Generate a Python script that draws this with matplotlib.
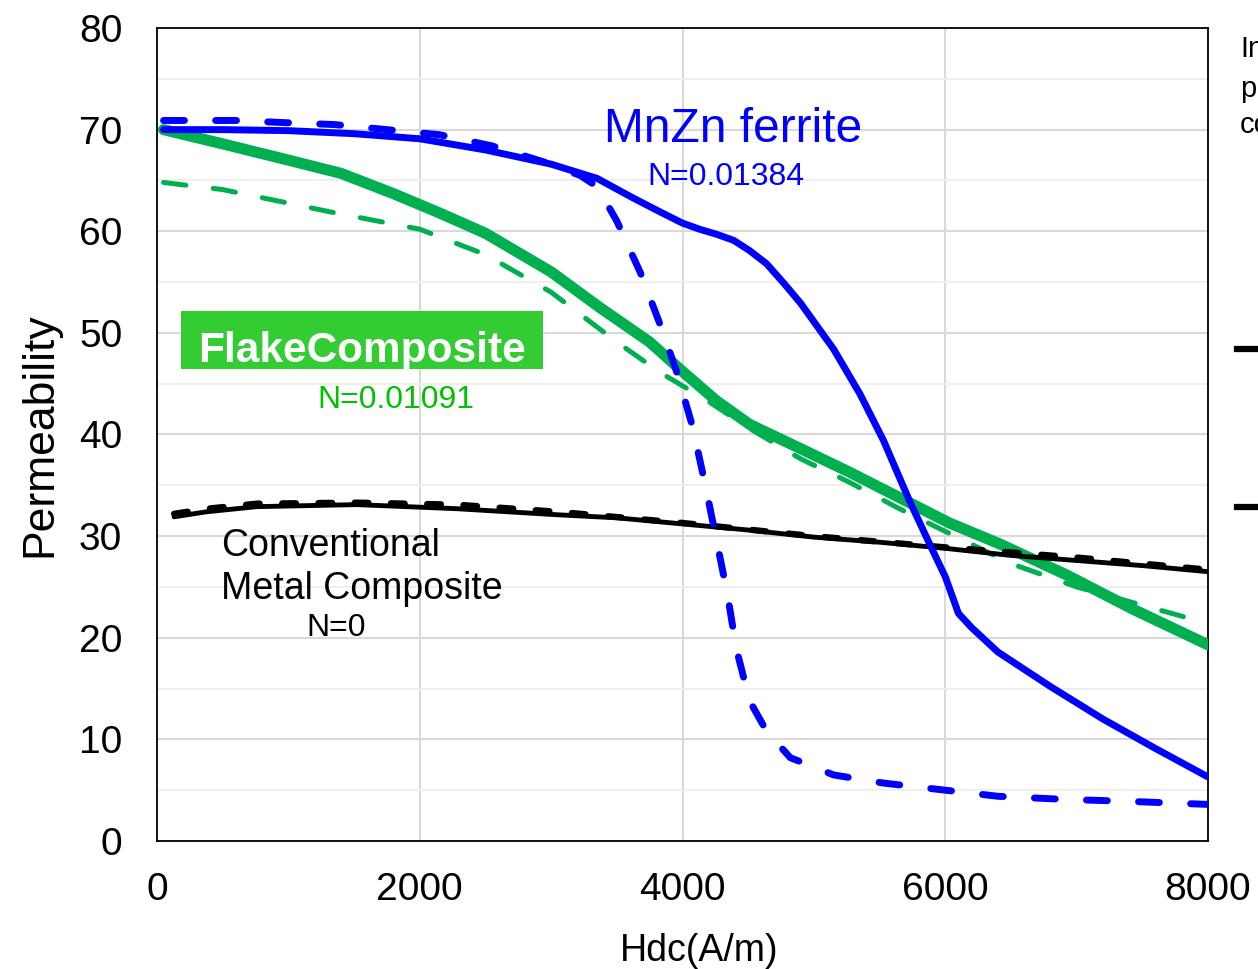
import matplotlib
matplotlib.use("Agg")
import matplotlib.pyplot as plt
from matplotlib.patches import Rectangle
from matplotlib.lines import Line2D
from matplotlib.ticker import MultipleLocator

plt.rcParams['font.family'] = ['Liberation Sans', 'DejaVu Sans']

# --- DATA ---
mnzn_x = [50, 500, 1000, 1500, 2000, 2500, 3000, 3350, 3620, 3830, 4000, 4130, 4260, 4390,
          4510, 4640, 4770, 4900, 5150, 5350, 5530, 5730, 5900, 6000, 6050, 6100, 6200,
          6400, 6800, 7200, 7600, 8000]
mnzn_y = [70.0, 70.0, 69.9, 69.6, 69.1, 68.0, 66.6, 65.2, 63.3, 61.9, 60.8, 60.2, 59.7, 59.1,
          58.1, 56.8, 54.9, 52.9, 48.4, 44.0, 39.4, 33.4, 28.7, 26.0, 24.2, 22.4, 21.0,
          18.6, 15.2, 12.0, 9.1, 6.3]

mnzn_d_x = [50, 600, 950, 1350, 1750, 2150, 2550, 2950, 3220, 3350, 3500, 3680, 3830, 3960,
            4080, 4180, 4260, 4340, 4410, 4510, 4640, 4820, 5150, 5530, 6000, 6400, 6900, 7400, 8000]
mnzn_d_y = [70.9, 70.9, 70.7, 70.5, 70.0, 69.5, 68.4, 66.8, 65.5, 64.4, 61.0, 55.9, 50.8, 46.0,
            40.6, 34.6, 29.5, 24.4, 18.9, 13.8, 10.8, 8.2, 6.5, 5.7, 5.0, 4.4, 4.1, 3.9, 3.6]

flake_x = [50, 500, 1000, 1400, 1800, 2150, 2500, 3000, 3370, 3750, 4000, 4260, 4510,
           4900, 5270, 5650, 6030, 6420, 6920, 7430, 8000]
flake_y = [70.0, 68.6, 67.0, 65.7, 63.7, 61.8, 59.8, 56.0, 52.5, 49.1, 46.2, 43.3, 41.0,
           38.6, 36.3, 33.8, 31.3, 29.2, 26.2, 22.8, 19.3]

flake_d_x = [50, 500, 950, 1320, 2000, 2500, 3000, 3500, 3830, 4180, 4510, 4900, 5270,
             5650, 6010, 6500, 7000, 7500, 8000]
flake_d_y = [64.8, 64.1, 62.9, 61.9, 60.2, 57.7, 54.0, 49.1, 46.1, 43.4, 40.6, 37.6, 35.3,
             32.7, 30.4, 27.3, 25.0, 23.2, 21.4]

conv_x = [130, 380, 760, 1520, 2280, 3050, 3500, 4000, 4500, 5000, 5500, 6000, 6500, 7000, 7500, 8000]
conv_y = [31.9, 32.4, 32.9, 33.1, 32.7, 32.1, 31.8, 31.2, 30.6, 29.9, 29.4, 28.8, 28.1, 27.6, 27.1, 26.5]

conv_d_x = [130, 380, 760, 1520, 2280, 3050, 4000, 5000, 6000, 7000, 8000]
conv_d_y = [32.2, 32.7, 33.2, 33.3, 33.1, 32.4, 31.3, 30.0, 28.9, 27.9, 26.7]

x_ticks = [0, 2000, 4000, 6000, 8000]
y_ticks = [0, 10, 20, 30, 40, 50, 60, 70, 80]

BLUE = '#0000FF'
GREEN = '#00B050'

fig = plt.figure(figsize=(12.58, 9.69), dpi=100)
ax = fig.add_axes([0.1248, 0.1321, 0.8355, 0.8390])

ax.set_xlim(0, 8000)
ax.set_ylim(0, 80)
ax.set_xticks(x_ticks)
ax.set_yticks(y_ticks)
ax.yaxis.set_minor_locator(MultipleLocator(5))
ax.grid(True, which='major', color='#D9D9D9', lw=1.5, zorder=0)
ax.grid(True, which='minor', axis='y', color='#EFEFEF', lw=1.5, zorder=0)
ax.tick_params(which='both', length=0, labelsize=28)
ax.tick_params(axis='y', pad=25)
ax.tick_params(axis='x', pad=22)
for s in ax.spines.values():
    s.set_color('black')
    s.set_linewidth(1.3)

ax.plot(flake_x, flake_y, color=GREEN, lw=8, solid_capstyle='round', solid_joinstyle='round', zorder=3)
ax.plot(flake_d_x, flake_d_y, color=GREEN, lw=3.6, dashes=(4.5, 5.5),
        dash_capstyle='round', zorder=3)
ax.plot(conv_x, conv_y, color='black', lw=3.5, solid_capstyle='round', zorder=4)
ax.plot(conv_d_x, conv_d_y, color='black', lw=4.5, dashes=(2.2, 3.6),
        dash_capstyle='round', zorder=4)
ax.plot(mnzn_x, mnzn_y, color=BLUE, lw=5, solid_capstyle='round', solid_joinstyle='round', zorder=5)
ax.plot(mnzn_d_x, mnzn_d_y, color=BLUE, lw=5, dashes=(3.0, 4.5),
        dash_capstyle='round', zorder=5)

ax.set_xlabel('Hdc(A/m)', fontsize=27, labelpad=18, x=0.516)
ax.set_ylabel('Permeability', fontsize=32, labelpad=13)

# annotations
ax.text(4384, 68.8, 'MnZn ferrite', color=BLUE, fontsize=34.5, ha='center', va='baseline', zorder=6)
ax.text(4331, 64.6, 'N=0.01384', color=BLUE, fontsize=23, ha='center', va='baseline', zorder=6)

ax.add_patch(Rectangle((183, 46.45), 2755, 5.7, facecolor='#33CC33', edgecolor='none', zorder=6))
ax.text(1560, 47.1, 'FlakeComposite', color='white', fontsize=30.5, fontweight='bold',
        ha='center', va='baseline', zorder=7)
ax.text(1816, 42.6, 'N=0.01091', color='#00C000', fontsize=23, ha='center', va='baseline', zorder=6)

ax.text(487, 28.0, 'Conventional', color='black', fontsize=27, ha='left', va='baseline', zorder=6)
ax.text(487, 23.8, 'Metal Composite', color='black', fontsize=27, ha='left', va='baseline', zorder=6)
ax.text(1363, 20.2, 'N=0', color='black', fontsize=23, ha='center', va='baseline', zorder=6)

# cropped legend on the right edge
for yy, txt in [(57, 'In'), (97, 'p'), (133, 'co')]:
    fig.text(1240 / 1258, 1 - yy / 969, txt, fontsize=21, ha='left', va='baseline')
for yy in [349, 507]:
    fig.add_artist(Line2D([1237 / 1258, 1.0], [1 - yy / 969] * 2, color='black', lw=4.5,
                          transform=fig.transFigure))

fig.savefig('out.png', dpi=100)
